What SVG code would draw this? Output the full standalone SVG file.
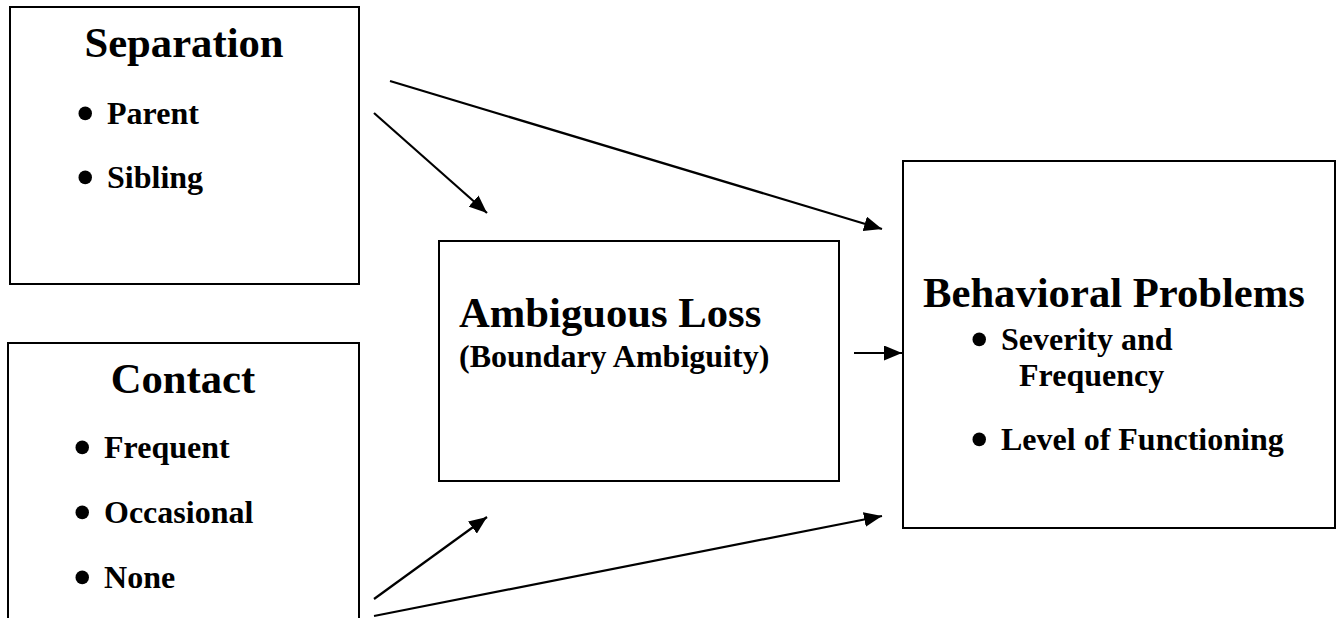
<svg xmlns="http://www.w3.org/2000/svg" width="1342" height="618" viewBox="0 0 1342 618">
<style>
.box{fill:#fff;stroke:#000;stroke-width:2}
.t{font-family:"Liberation Serif","Times New Roman",serif;font-weight:bold;fill:#000}
.h{font-size:42.67px}
.b{font-size:32px}
.bul{font-size:50px}
.c{stroke:#000;stroke-width:2.2;fill:none}
</style>
<defs>
<marker id="ah" markerUnits="userSpaceOnUse" markerWidth="19" markerHeight="15" refX="18" refY="7.5" orient="auto">
<path d="M0,0 L18,7.5 L0,15 z" fill="#000"/>
</marker>
</defs>
<rect width="1342" height="618" fill="#fff"/>
<g id="separation">
<rect class="box" x="10" y="7" width="349" height="277"/>
<text class="t h" x="184" y="57" text-anchor="middle">Separation</text>
<text class="t b" x="76.5" y="124"><tspan class="bul" dy="5.5">•</tspan><tspan dx="13" dy="-5.5">Parent</tspan></text>
<text class="t b" x="76.5" y="188"><tspan class="bul" dy="5.5">•</tspan><tspan dx="13" dy="-5.5">Sibling</tspan></text>
</g>
<g id="contact">
<rect class="box" x="8" y="343" width="351" height="300"/>
<text class="t h" x="183" y="393" text-anchor="middle">Contact</text>
<text class="t b" x="73.5" y="458"><tspan class="bul" dy="5.5">•</tspan><tspan dx="13" dy="-5.5">Frequent</tspan></text>
<text class="t b" x="73.5" y="523"><tspan class="bul" dy="5.5">•</tspan><tspan dx="13" dy="-5.5">Occasional</tspan></text>
<text class="t b" x="73.5" y="588"><tspan class="bul" dy="5.5">•</tspan><tspan dx="13" dy="-5.5">None</tspan></text>
</g>
<g id="ambiguous">
<rect class="box" x="439" y="241" width="400" height="240"/>
<text class="t h" x="459" y="327">Ambiguous Loss</text>
<text class="t b" x="459" y="367">(Boundary Ambiguity)</text>
</g>
<g id="behavioral">
<rect class="box" x="903" y="161" width="432" height="367"/>
<text class="t h" x="923" y="307">Behavioral Problems</text>
<text class="t b" x="970.5" y="350"><tspan class="bul" dy="5.5">•</tspan><tspan dx="13" dy="-5.5">Severity and</tspan></text>
<text class="t b" x="1019" y="386">Frequency</text>
<text class="t b" x="970.5" y="450"><tspan class="bul" dy="5.5">•</tspan><tspan dx="13" dy="-5.5">Level of Functioning</tspan></text>
</g>
<g id="connectors">
<line class="c" x1="374" y1="113" x2="487" y2="213" marker-end="url(#ah)"/>
<line class="c" x1="390" y1="81" x2="882" y2="229" marker-end="url(#ah)"/>
<line class="c" x1="374" y1="599" x2="487" y2="517" marker-end="url(#ah)"/>
<line class="c" x1="374" y1="616" x2="882" y2="516" marker-end="url(#ah)"/>
<line class="c" x1="854" y1="353" x2="902" y2="353" marker-end="url(#ah)"/>
</g>
</svg>
